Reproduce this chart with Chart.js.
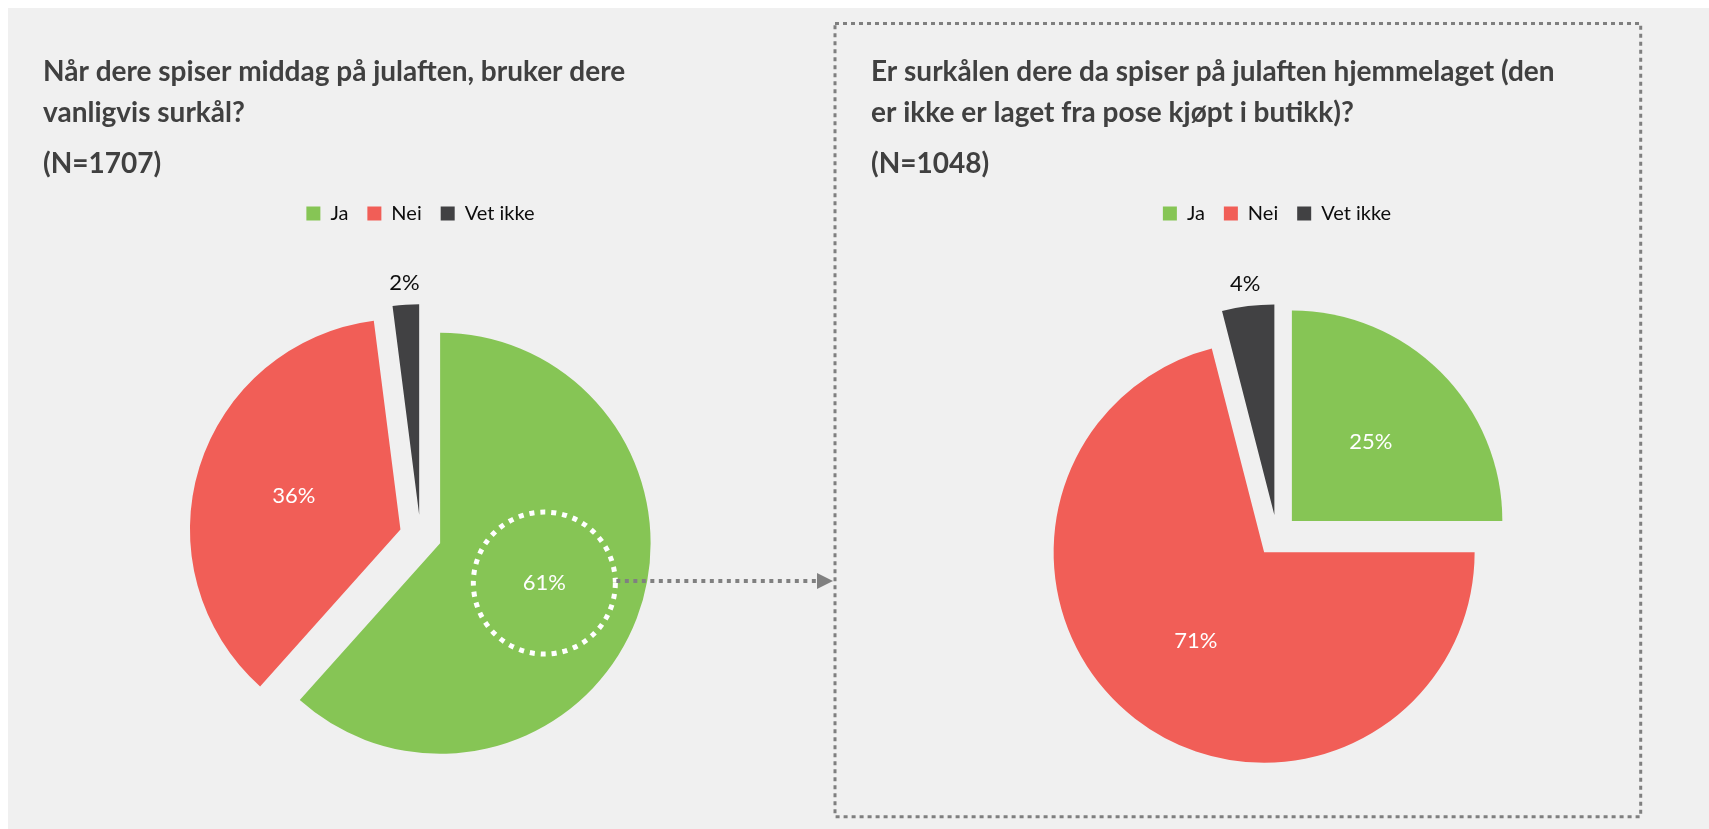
<!DOCTYPE html>
<html lang="no">
<head>
<meta charset="utf-8">
<title>Surkål på julaften</title>
<script src="https://cdn.jsdelivr.net/npm/chart.js@4.4.1/dist/chart.umd.min.js"></script>
<style>
  html, body {
    margin: 0;
    padding: 0;
    width: 1709px;
    height: 829px;
    overflow: hidden;
    background: #ffffff;
  }
  .panel {
    position: absolute;
    left: 8px;
    top: 8px;
    right: 0;
    bottom: 0;
    background: #f0f0f0;
  }
  canvas {
    position: absolute;
  }
  #leftChart { left: 8px; top: 8px; }
  #rightChart { left: 836px; top: 8px; }
  .frame {
    position: absolute;
    left: 0;
    top: 0;
    pointer-events: none;
  }
</style>
</head>
<body>
<div class="panel"></div>
<canvas id="leftChart" width="826" height="830"></canvas>
<canvas id="rightChart" width="873" height="830"></canvas>
<svg class="frame" width="1709" height="829">
  <rect x="835" y="23.5" width="805.7" height="793.2" fill="none" stroke="#7f7f7f" stroke-width="3" stroke-dasharray="4 4"></rect>
</svg>

<script>
const categories = ["Ja", "Nei", "Vet ikke"];

const surkalTitle = ["Når dere spiser middag på julaften, bruker dere", "vanligvis surkål?"];
const surkalN = "(N=1707)";
const surkalValues = [61, 36, 2];

const hjemmelagetTitle = ["Er surkålen dere da spiser på julaften hjemmelaget (den", "er ikke er laget fra pose kjøpt i butikk)?"];
const hjemmelagetN = "(N=1048)";
const hjemmelagetValues = [25, 71, 4];

const sliceColors = ["#86c555", "#f15e57", "#414143"];
const titleColor = "#404040";
const explode = 21;

Chart.defaults.font.family = "Lato, 'Open Sans', sans-serif";
Chart.defaults.color = "#0d0d0d";

// draws every slice pushed out along its own middle angle
const explodePlugin = {
  id: "explode",
  beforeDatasetDraw(chart, args) {
    const ctx = chart.ctx;
    args.meta.data.forEach((arc) => {
      const mid = (arc.startAngle + arc.endAngle) / 2;
      ctx.save();
      ctx.translate(Math.cos(mid) * explode, Math.sin(mid) * explode);
      arc.draw(ctx);
      ctx.restore();
    });
    return false;
  }
};

function labelPoint(arc, inside) {
  const mid = (arc.startAngle + arc.endAngle) / 2;
  const r = explode + (inside ? arc.outerRadius * 0.53 : arc.outerRadius + 22);
  return { x: arc.x + Math.cos(mid) * r, y: arc.y + Math.sin(mid) * r };
}

const sliceLabels = {
  id: "sliceLabels",
  afterDatasetsDraw(chart) {
    const ctx = chart.ctx;
    const values = chart.data.datasets[0].data;
    ctx.save();
    ctx.font = "22px Lato, 'Open Sans', sans-serif";
    ctx.textAlign = "center";
    ctx.textBaseline = "middle";
    chart.getDatasetMeta(0).data.forEach((arc, i) => {
      const inside = values[i] >= 10;
      const p = labelPoint(arc, inside);
      ctx.fillStyle = inside ? "#ffffff" : "#0d0d0d";
      ctx.fillText(`${values[i]}%`, p.x, p.y);
    });
    ctx.restore();
  }
};

// dotted ring round the "Ja" slice and the arrow over to the next question
const highlight = {
  id: "highlight",
  afterDraw(chart) {
    const ctx = chart.ctx;
    const p = labelPoint(chart.getDatasetMeta(0).data[0], true);
    ctx.save();
    ctx.strokeStyle = "#ffffff";
    ctx.lineWidth = 5;
    ctx.setLineDash([5, 6]);
    ctx.beginPath();
    ctx.arc(p.x, p.y, 71, 0, Math.PI * 2);
    ctx.stroke();

    const y = p.y - 2;
    const end = chart.width - 1;
    ctx.strokeStyle = "#808080";
    ctx.lineWidth = 4;
    ctx.setLineDash([4, 4.5]);
    ctx.beginPath();
    ctx.moveTo(p.x + 72, y);
    ctx.lineTo(end - 14, y);
    ctx.stroke();
    ctx.setLineDash([]);
    ctx.fillStyle = "#808080";
    ctx.beginPath();
    ctx.moveTo(end, y);
    ctx.lineTo(end - 16, y - 8);
    ctx.lineTo(end - 16, y + 8);
    ctx.closePath();
    ctx.fill();
    ctx.restore();
  }
};

function makePie(id, title, n, values, padRight, extra) {
  new Chart(document.getElementById(id), {
    type: "pie",
    data: {
      labels: categories,
      datasets: [
        {
          data: values,
          backgroundColor: sliceColors,
          borderWidth: 0,
          radius: 210.5
        }
      ]
    },
    options: {
      responsive: false,
      animation: false,
      events: [],
      layout: { padding: { top: 0, left: 35, right: padRight, bottom: 0 } },
      plugins: {
        title: {
          display: true,
          text: title,
          align: "start",
          color: titleColor,
          font: { size: 28, weight: "bold", lineHeight: "40.5px" },
          padding: { top: 44, bottom: 11 }
        },
        subtitle: {
          display: true,
          text: n,
          align: "start",
          color: titleColor,
          font: { size: 28, weight: "bold", lineHeight: "40.5px" },
          padding: { top: 0, bottom: 0 }
        },
        legend: {
          position: "top",
          labels: {
            boxWidth: 14,
            boxHeight: 14,
            padding: 19,
            color: "#0d0d0d",
            font: { size: 20 }
          }
        },
        tooltip: { enabled: false }
      }
    },
    plugins: [explodePlugin, sliceLabels].concat(extra)
  });
}

function init() {
  makePie("leftChart", surkalTitle, surkalN, surkalValues, 36, [highlight]);
  makePie("rightChart", hjemmelagetTitle, hjemmelagetN, hjemmelagetValues, 26, []);
}

if (document.fonts && document.fonts.load) {
  Promise.all([
    document.fonts.load("bold 28px Lato"),
    document.fonts.load("22px Lato")
  ]).then(init, init);
} else {
  init();
}
</script>
</body>
</html>
